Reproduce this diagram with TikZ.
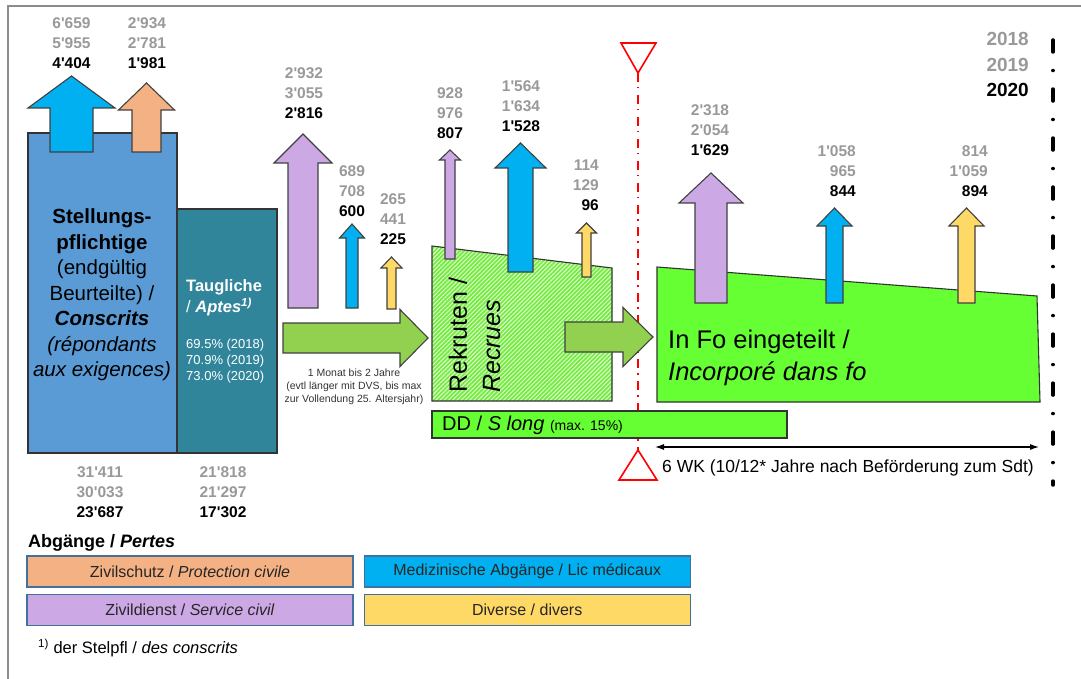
\documentclass[tikz,border=0pt]{standalone}
\usepackage{fontspec}
\setmainfont{Liberation Sans}
\usetikzlibrary{arrows.meta,positioning,patterns.meta}
\definecolor{stellblue}{RGB}{91,155,213}
\definecolor{tauglteal}{RGB}{49,133,155}
\definecolor{medblue}{RGB}{0,176,240}
\definecolor{zivorange}{RGB}{244,177,131}
\definecolor{zdlilac}{RGB}{204,168,228}
\definecolor{divyellow}{RGB}{255,217,102}
\definecolor{flowgreen}{RGB}{146,208,80}
\definecolor{fogreen}{RGB}{102,255,51}
\definecolor{rekgreen}{RGB}{115,235,65}
\definecolor{rekstripe}{RGB}{215,250,195}
\definecolor{numgray}{RGB}{153,153,153}
\definecolor{framegray}{RGB}{140,140,140}
\definecolor{legedge}{RGB}{65,113,156}
\newcommand{\ap}{\textquotesingle}
\tikzset{
  num/.style={font=\fontsize{15.5}{15.5}\selectfont\bfseries,inner sep=0pt},
  year/.style={font=\fontsize{19}{19}\selectfont\bfseries,inner sep=0pt,anchor=east},
  boxline/.style={draw=black!80,line width=1.1pt},
  arrline/.style={draw=black!75,line width=1.1pt,line join=miter},
  legbox/.style={draw=legedge,line width=1.2pt,minimum width=326pt,minimum height=31pt,
    inner sep=0pt,text=black!85,font=\fontsize{16}{16}\selectfont}
}
% color, x, shaft half width, head half width, foot, head base, tip
\newcommand{\uparr}[7]{\draw[arrline,fill=#1] (#2-#3,#5) -- (#2-#3,#6) -- (#2-#4,#6) -- (#2,#7)
  -- (#2+#4,#6) -- (#2+#3,#6) -- (#2+#3,#5) -- cycle;}
% color, start, head base, tip, y, shaft half width, head half width
\newcommand{\rightarr}[7]{\draw[arrline,fill=#1] (#2,#5-#6) -- (#3,#5-#6) -- (#3,#5-#7) -- (#4,#5)
  -- (#3,#5+#7) -- (#3,#5+#6) -- (#2,#5+#6) -- cycle;}
\newcommand{\trio}[7][center]{%
  \node[num,text=numgray,anchor=#1] (#2a) at (#3,#4) {#5};
  \node[num,text=numgray,anchor=#1] (#2b) at (#3,#4+20) {#6};
  \node[num,anchor=#1] (#2c) at (#3,#4+40) {#7};}
\begin{document}
\begin{tikzpicture}[x=1pt,y=-1pt]
\useasboundingbox (0,0) rectangle (1081,679);
\draw[framegray,line width=1.5pt] (1090,6) -- (8,6) -- (8,690);

\coordinate (redtop) at (638,73);
\coordinate (redbot) at (638,450);
\draw[red,line width=1.5pt,dash pattern=on 9pt off 5pt on 1.5pt off 6.5pt] (redtop) -- (redbot);
\draw[red,line width=1.6pt,fill=white] (621,43) -- (656,43) -- (redtop) -- cycle;
\draw[red,line width=1.6pt,fill=white] (619,480) -- (657,480) -- (redbot) -- cycle;
\draw[line width=3.5pt,line cap=round,dash pattern=on 12pt off 18.5pt on 0.01pt off 18.5pt] (1053,40) -- (1053,485);

\draw[boxline,fill=stellblue] (28,133) rectangle (177,453);
\draw[boxline,fill=tauglteal] (177,209) rectangle (277,453);
\draw[boxline,preaction={fill=rekgreen},pattern={Lines[angle=45,distance=3pt,line width=1.1pt]},pattern color=rekstripe]
  (432,246) -- (612,268) -- (612,401) -- (432,401) -- cycle;
\draw[boxline,fill=fogreen] (657,267) -- (1037,296) -- (1040,402) -- (657,402) -- cycle;
\draw[boxline,fill=fogreen] (432,411) rectangle (787,438);

\uparr{medblue}{71.5}{21.5}{43.5}{152}{108}{76}
\uparr{zivorange}{146.5}{14.5}{28}{152}{110}{83}
\uparr{zdlilac}{303}{15}{29}{308}{163}{134}
\uparr{medblue}{352}{6}{12.5}{308}{238}{224}
\uparr{divyellow}{391.5}{4.5}{10.5}{309}{268}{257}
\uparr{zdlilac}{450}{5}{10.5}{259}{160}{150}
\uparr{medblue}{520.5}{12.5}{25.5}{272}{168}{143}
\uparr{divyellow}{586.5}{4.5}{10}{277}{233}{223}
\uparr{zdlilac}{711}{16}{32}{303}{203}{173}
\uparr{medblue}{834.5}{8.5}{17.5}{303}{226}{208}
\uparr{divyellow}{966.5}{8.5}{17.5}{303}{226}{208}
\rightarr{flowgreen}{283}{400}{428}{338}{15}{28.5}
\rightarr{flowgreen}{565}{623}{653}{337}{15}{29.5}

\trio{nmedA}{71.5}{23}{6\ap659}{5\ap955}{4\ap404}
\trio{nzs}{147}{23}{2\ap934}{2\ap781}{1\ap981}
\trio{nzdA}{304}{73}{2\ap932}{3\ap055}{2\ap816}
\trio{nmedB}{352}{171}{689}{708}{600}
\trio{ndivB}{393}{199}{265}{441}{225}
\trio{nzdR}{450}{93}{928}{976}{807}
\trio{nmedR}{521}{86}{1\ap564}{1\ap634}{1\ap528}
\trio[east]{ndivR}{599}{165}{114}{129}{96}
\trio{nzdF}{710}{110}{2\ap318}{2\ap054}{1\ap629}
\trio[east]{nmedF}{856}{151}{1\ap058}{965}{844}
\trio[east]{ndivF}{988}{151}{814}{1\ap059}{894}
\trio{nstell}{100}{472}{31\ap411}{30\ap033}{23\ap687}
\trio{ntaug}{223}{472}{21\ap818}{21\ap297}{17\ap302}
\node[year,text=numgray] (y18) at (1029,39) {2018};
\node[year,text=numgray] (y19) at (1029,64.5) {2019};
\node[year] (y20) at (1029,90) {2020};

\node[align=center,inner sep=0pt,font=\fontsize{20.5}{25.5}\selectfont] (stelltxt) at (102,295)
  {\textbf{Stellungs-}\\\textbf{pflichtige}\\(endgültig\\Beurteilte) /\\\textbf{\textit{Conscrits}}\\
   \textit{(répondants}\\\textit{aux exigences)}};
\node[anchor=west,align=left,inner sep=0pt,text=white,font=\fontsize{16.5}{21}\selectfont] (taugl) at (186,298)
  {\textbf{Taugliche}\\/ \textbf{\textit{Aptes}}\textsuperscript{\textbf{\textit{1)}}}};
\node[anchor=west,align=left,inner sep=0pt,text=white,font=\fontsize{13}{16}\selectfont] (quote) at (186,361)
  {69.5\% (2018)\\70.9\% (2019)\\73.0\% (2020)};
\node[align=center,inner sep=0pt,text=black!80,font=\fontsize{10.5}{13}\selectfont] (dauer) at (354,387)
  {1 Monat bis 2 Jahre\\(evtl länger mit DVS, bis max\\zur Vollendung 25. Altersjahr)};
\node[rotate=90,anchor=west,inner sep=0pt,font=\fontsize{25}{25}\selectfont] (rekr) at (458,393) {Rekruten /};
\node[rotate=90,anchor=west,inner sep=0pt,font=\fontsize{25}{25}\selectfont\itshape] (recr) at (492,393) {Recrues};
\node[anchor=west,align=left,inner sep=0pt,font=\fontsize{25.5}{32}\selectfont] (infotxt) at (668,358)
  {In Fo eingeteilt /\\\textit{Incorporé dans fo}};
\node[anchor=west,inner sep=0pt,font=\fontsize{20}{20}\selectfont] (ddtxt) at (442,425)
  {DD / \textit{S long} {\fontsize{14}{14}\selectfont(max. 15\%)}};

\coordinate (wkL) at (655,447);
\coordinate (wkR) at (1039,447);
\draw[{Latex[length=9pt,width=6pt]}-{Latex[length=9pt,width=6pt]},line width=1.1pt] (wkL) -- (wkR);
\node[anchor=west,inner sep=0pt,font=\fontsize{17.5}{17.5}\selectfont] (wktxt) at (662,468)
  {6 WK (10/12* Jahre nach Beförderung zum Sdt)};

\node[anchor=west,inner sep=0pt,font=\fontsize{18}{18}\selectfont\bfseries] (legtitle) at (28,543) {Abgänge / \textit{Pertes}};
\node[legbox,fill=zivorange] (lzivil) at (190,571.5) {Zivilschutz / \textit{Protection civile}};
\node[legbox,fill=zdlilac,below=6pt of lzivil] (lzdienst) {Zivildienst / \textit{Service civil}};
\node[legbox,fill=medblue,right=10pt of lzivil] (lmed) {Medizinische Abgänge / Lic médicaux};
\node[legbox,fill=divyellow,below=6pt of lmed] (ldiv) {Diverse / divers};
\node[anchor=west,inner sep=0pt,font=\fontsize{16.5}{16.5}\selectfont] (fussnote) at (38,648)
  {\textsuperscript{1)} der Stelpfl / \textit{des conscrits}};
\end{tikzpicture}
\end{document}
